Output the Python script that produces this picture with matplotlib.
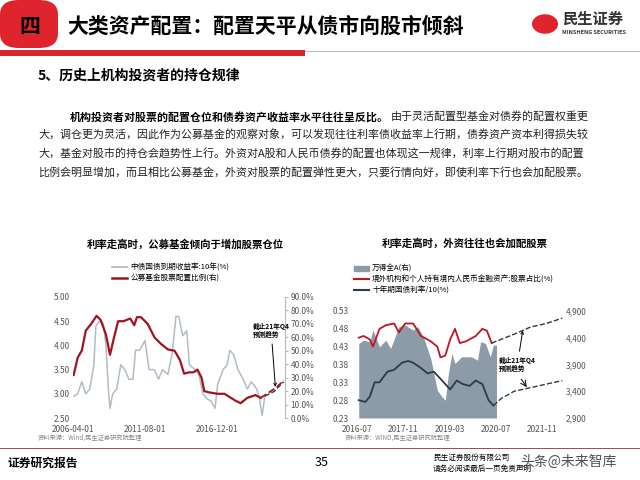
import matplotlib
matplotlib.use("Agg")
import matplotlib.pyplot as plt
from matplotlib.patches import FancyBboxPatch, Rectangle, Circle, Patch
from matplotlib.ticker import FuncFormatter

plt.rcParams['font.family'] = ['Noto Sans CJK SC', 'DejaVu Sans']

# ---------------- left chart data ----------------
yield_x = [2006.3, 2006.6, 2006.9, 2007.2, 2007.5, 2007.8, 2007.95, 2008.2, 2008.5, 2008.7, 2008.9, 2009.0,
           2009.2, 2009.5, 2009.8, 2010.1, 2010.4, 2010.7, 2010.9, 2011.2, 2011.6, 2011.9, 2012.3, 2012.6,
           2012.9, 2013.3, 2013.6, 2013.9, 2014.1, 2014.4, 2014.7, 2014.9, 2015.3, 2015.6, 2015.9, 2016.2,
           2016.5, 2016.8, 2017.0, 2017.4, 2017.7, 2017.9, 2018.2, 2018.5, 2018.9, 2019.2, 2019.5, 2019.9,
           2020.1, 2020.3, 2020.5]
yield_y = [2.95, 3.0, 3.25, 3.0, 3.1, 3.6, 4.4, 4.5, 4.45, 4.0, 3.0, 2.7,
           3.0, 3.1, 3.6, 3.5, 3.3, 3.3, 3.9, 3.9, 4.1, 3.5, 3.5, 3.3,
           3.5, 3.4, 3.8, 4.6, 4.6, 4.2, 4.3, 3.6, 3.5, 3.4, 3.0, 2.9,
           2.85, 2.7, 3.2, 3.5, 3.6, 3.9, 3.8, 3.5, 3.3, 3.1, 3.25, 3.1,
           2.9, 2.55, 2.95]
yield_fc_x = [2020.5, 2021.2, 2021.9]
yield_fc_y = [2.95, 3.05, 3.25]
fund_x = [2006.3, 2006.6, 2006.9, 2007.2, 2007.6, 2008.0, 2008.3, 2008.7, 2009.0, 2009.3, 2009.6, 2010.0,
          2010.5, 2010.8, 2011.0, 2011.3, 2011.8, 2012.3, 2012.8, 2013.3, 2013.8, 2014.2, 2014.5, 2014.9,
          2015.2, 2015.5, 2015.8, 2016.0, 2016.4, 2017.0, 2017.5, 2018.3, 2018.7, 2019.2, 2019.8, 2020.2]
fund_y = [32, 45, 50, 65, 70, 76, 73, 62, 47, 60, 72, 72,
          74, 69, 75, 75, 70, 60, 55, 51, 50, 43, 33, 34,
          34, 36, 30, 20, 19, 18, 18, 13, 11, 15, 17, 15]
fund_fc_x = [2020.2, 2020.8, 2021.4, 2021.9]
fund_fc_y = [15, 19, 23, 28]

# ---------------- right chart data ----------------
allA_x = [2016.55, 2016.69, 2016.87, 2016.96, 2017.15, 2017.33, 2017.47, 2017.71, 2017.89, 2018.12, 2018.26,
          2018.45, 2018.63, 2018.82, 2018.96, 2019.05, 2019.14, 2019.24, 2019.33, 2019.52, 2019.80, 2019.98,
          2020.07, 2020.21, 2020.35, 2020.44, 2020.53]
allA_y = [4294, 4356, 4325, 4544, 4231, 4356, 4200, 4606, 4638, 4544, 4606,
          4356, 4012, 3419, 3294, 3231, 3731, 4106, 3919, 4044, 4044, 3981,
          4325, 4294, 4044, 4262, 4262]
fx_x = [2016.55, 2016.69, 2016.87, 2016.96, 2017.15, 2017.33, 2017.57, 2017.71, 2017.89, 2018.12, 2018.35,
        2018.63, 2018.82, 2018.91, 2019.05, 2019.19, 2019.33, 2019.47, 2019.65, 2019.93, 2020.12, 2020.25, 2020.39]
fx_y = [0.455, 0.46, 0.45, 0.43, 0.48, 0.49, 0.495, 0.47, 0.495, 0.495, 0.46,
        0.445, 0.43, 0.40, 0.405, 0.45, 0.48, 0.44, 0.445, 0.46, 0.48, 0.475, 0.44]
fx_fc_x = [2020.39, 2021.04, 2021.51, 2021.97, 2022.43]
fx_fc_y = [0.44, 0.465, 0.485, 0.495, 0.51]
cgb_x = [2016.55, 2016.74, 2016.87, 2017.01, 2017.15, 2017.38, 2017.57, 2017.80, 2017.98, 2018.12, 2018.35,
         2018.54, 2018.72, 2018.91, 2019.19, 2019.38, 2019.56, 2019.75, 2019.93, 2020.12, 2020.30, 2020.44]
cgb_y = [0.28, 0.275, 0.29, 0.33, 0.33, 0.36, 0.365, 0.385, 0.39, 0.385, 0.37,
         0.355, 0.36, 0.34, 0.31, 0.335, 0.325, 0.32, 0.335, 0.325, 0.28, 0.265]
cgb_fc_x = [2020.44, 2020.67, 2021.04, 2021.51, 2021.97, 2022.43]
cgb_fc_y = [0.265, 0.285, 0.305, 0.315, 0.325, 0.335]

RED = '#c0161f'
DARKRED = '#a01420'
GRAY = '#b0bcc6'
AREA = '#8d9aa8'
NAVY = '#2d3a4a'

fig = plt.figure(figsize=(6.4, 4.8), dpi=100)
fig.patch.set_facecolor('white')

def px(x, y):
    return x / 640, 1 - y / 480

# ---------- header ----------
fig.patches.append(FancyBboxPatch((0, 1 - 48/480), 58/640, 48/480, boxstyle="round,pad=0,rounding_size=0.03",
                                  transform=fig.transFigure, facecolor='#e0242e', edgecolor='none'))
fig.patches.append(Rectangle((0, 1 - 56/480), 305/640, 6/480, transform=fig.transFigure,
                             facecolor='#d7262e', edgecolor='none'))
fig.patches.append(Rectangle((305/640, 1 - 52/480), 335/640, 1.2/480, transform=fig.transFigure,
                             facecolor='#bbbbbb', edgecolor='none'))
fig.text(*px(30, 26), '四', fontsize=15, fontweight='bold', color='black', ha='center', va='center')
fig.text(*px(67, 26), '大类资产配置：配置天平从债市向股市倾斜', fontsize=15, fontweight='bold', ha='left', va='center')
fig.patches.append(Circle(px(545, 24), 13/640, transform=fig.transFigure, facecolor='#e0242e', edgecolor='none'))
fig.text(*px(562, 19), '民生证券', fontsize=11, fontweight='bold', color='#333333', ha='left', va='center')
fig.text(*px(562, 33), 'MINSHENG SECURITIES', fontsize=4, fontweight='bold', color='#333333', ha='left', va='center')
fig.text(*px(38, 76), '5、历史上机构投资者的持仓规律', fontsize=10, fontweight='bold', ha='left', va='center')

para = [
    (70, '机构投资者对股票的配置仓位和债券资产收益率水平往往呈反比。', '由于灵活配置型基金对债券的配置权重更'),
    (38, '', '大，调仓更为灵活，因此作为公募基金的观察对象，可以发现往往利率债收益率上行期，债券资产资本利得损失较'),
    (38, '', '大，基金对股市的持仓会趋势性上行。外资对A股和人民币债券的配置也体现这一规律，利率上行期对股市的配置'),
    (38, '', '比例会明显增加，而且相比公募基金，外资对股票的配置弹性更大，只要行情向好，即使利率下行也会加配股票。'),
]
renderer = fig.canvas.get_renderer()
for i, (x0, b, n) in enumerate(para):
    y = 117 + i * 18.5
    if b:
        t = fig.text(*px(x0, y), b, fontsize=7.9, fontweight='bold', ha='left', va='center')
        bb = t.get_window_extent(renderer)
        fig.text(bb.x1 / 640 + 2/640, px(0, y)[1], n, fontsize=7.9, ha='left', va='center', color='#222222')
    else:
        fig.text(*px(x0, y), n, fontsize=7.9, ha='left', va='center', color='#222222')

# ---------- left chart ----------
fig.text(*px(185, 244), '利率走高时，公募基金倾向于增加股票仓位', fontsize=7.5, fontweight='bold', ha='center', va='center')
ax1 = fig.add_axes([73/640, 62/480, 212/640, 121/480])
ax1.plot(yield_x, yield_y, color=GRAY, lw=1.1)
ax1.plot(yield_fc_x, yield_fc_y, color=NAVY, lw=1.0, ls='--')
ax1.set_xlim(2006.25, 2022.0)
ax1.set_ylim(2.5, 5.0)
ax1.set_yticks([2.5, 3.0, 3.5, 4.0, 4.5, 5.0])
ax1.yaxis.set_major_formatter(FuncFormatter(lambda v, p: f'{v:.2f}'))
ax1.set_xticks([2006.25, 2011.58, 2016.92])
ax1.set_xticklabels(['2006-04-01', '2011-08-01', '2016-12-01'])
ax1b = ax1.twinx()
ax1b.plot(fund_x, fund_y, color=DARKRED, lw=1.6)
ax1b.plot(fund_fc_x, fund_fc_y, color=DARKRED, lw=1.3, ls='--')
ax1b.set_ylim(0, 90)
ax1b.set_yticks(range(0, 91, 10))
ax1b.yaxis.set_major_formatter(FuncFormatter(lambda v, p: f'{v:.1f}%'))
for a in (ax1, ax1b):
    for s in ('top', 'left', 'bottom'):
        a.spines[s].set_visible(False)
    a.spines['right'].set_color('#bbbbbb')
    a.tick_params(labelsize=6, colors='#555555', length=0, pad=2)
ax1.tick_params(axis='x', pad=5)
ax1b.tick_params(axis='y', length=2, color='#bbbbbb')
ax1b.annotate('截止21年Q4\n预测趋势', xy=(2021.3, 21), xytext=(2019.6, 65), fontsize=4.8,
              fontweight='bold', ha='left', va='center', arrowprops=dict(arrowstyle='->', color='black', lw=0.7))
fig.legend(handles=[plt.Line2D([], [], color=GRAY, lw=1.3), plt.Line2D([], [], color=DARKRED, lw=1.8)],
           labels=['中债国债到期收益率:10年(%)', '公募基金股票配置比例(右)'],
           loc='upper left', bbox_to_anchor=px(108, 260), frameon=False, fontsize=5.5,
           handlelength=2, labelspacing=0.35, borderpad=0, handletextpad=0.4)
fig.text(*px(38, 438), '资料来源：Wind,民生证券研究院整理', fontsize=4.5, color='#888888', ha='left', va='center')

# ---------- right chart ----------
fig.text(*px(465, 244), '利率走高时，外资往往也会加配股票', fontsize=7.5, fontweight='bold', ha='center', va='center')
ax2 = fig.add_axes([357/640, 62/480, 206/640, 107/480])
ax2b = ax2.twinx()
ax2.set_zorder(ax2b.get_zorder() + 1)
ax2.patch.set_visible(False)
ax2b.fill_between(allA_x, 2900, allA_y, color=AREA, lw=0)
ax2b.set_ylim(2900, 4900)
ax2b.set_yticks([2900, 3400, 3900, 4400, 4900])
ax2b.yaxis.set_major_formatter(FuncFormatter(lambda v, p: f'{int(v):,}'))
ax2.plot(fx_x, fx_y, color=RED, lw=1.3)
ax2.plot(fx_fc_x, fx_fc_y, color=NAVY, lw=1.0, ls='--')
ax2.plot(cgb_x, cgb_y, color=NAVY, lw=1.3)
ax2.plot(cgb_fc_x, cgb_fc_y, color=NAVY, lw=1.0, ls='--')
ax2.set_xlim(2016.5, 2022.45)
ax2.set_ylim(0.23, 0.53)
ax2.set_yticks([0.23, 0.28, 0.33, 0.38, 0.43, 0.48, 0.53])
ax2.yaxis.set_major_formatter(FuncFormatter(lambda v, p: f'{v:.2f}'))
ax2.set_xticks([2016.5, 2017.83, 2019.17, 2020.5, 2021.83])
ax2.set_xticklabels(['2016-07', '2017-11', '2019-03', '2020-07', '2021-11'])
for a in (ax2, ax2b):
    for s in a.spines.values():
        s.set_visible(False)
    a.tick_params(labelsize=6, colors='#555555', length=0, pad=2)
ax2.tick_params(axis='x', pad=5)
ax2.tick_params(axis='y', pad=6)
ax2.annotate('截止21年Q4\n预测趋势', xy=(2021.3, 0.483), xytext=(2020.6, 0.38), fontsize=4.8,
             fontweight='bold', ha='left', va='center', arrowprops=dict(arrowstyle='->', color='black', lw=0.7))
ax2.annotate('', xy=(2021.45, 0.31), xytext=(2021.2, 0.345),
             arrowprops=dict(arrowstyle='->', color='black', lw=0.7))
fig.legend(handles=[Patch(color=AREA), plt.Line2D([], [], color=RED, lw=1.5), plt.Line2D([], [], color=NAVY, lw=1.5)],
           labels=['万得全A(右)', '境外机构和个人持有境内人民币金融资产:股票占比(%)', '十年期国债利率/10(%)'],
           loc='upper left', bbox_to_anchor=px(350, 261), frameon=False, fontsize=5.5,
           handlelength=2, labelspacing=0.35, borderpad=0, handletextpad=0.4)
fig.text(*px(345, 438), '资料来源：WIND,民生证券研究院整理', fontsize=4.5, color='#888888', ha='left', va='center')

# ---------- footer ----------
fig.patches.append(Rectangle((0, 1 - 449/480), 1, 1/480, transform=fig.transFigure,
                             facecolor='#a05050', edgecolor='none'))
fig.text(*px(8, 463), '证券研究报告', fontsize=8.5, fontweight='bold', ha='left', va='center')
fig.text(*px(322, 463), '35', fontsize=9, ha='center', va='center')
fig.text(*px(433, 458), '民生证券股份有限公司', fontsize=5.5, ha='left', va='center')
fig.text(*px(433, 469), '请务必阅读最后一页免责声明', fontsize=5.5, ha='left', va='center')
fig.text(*px(520, 462), '头条@未来智库', fontsize=10, color='#333333', alpha=0.85, ha='left', va='center')

fig.savefig('out.png', dpi=100)
